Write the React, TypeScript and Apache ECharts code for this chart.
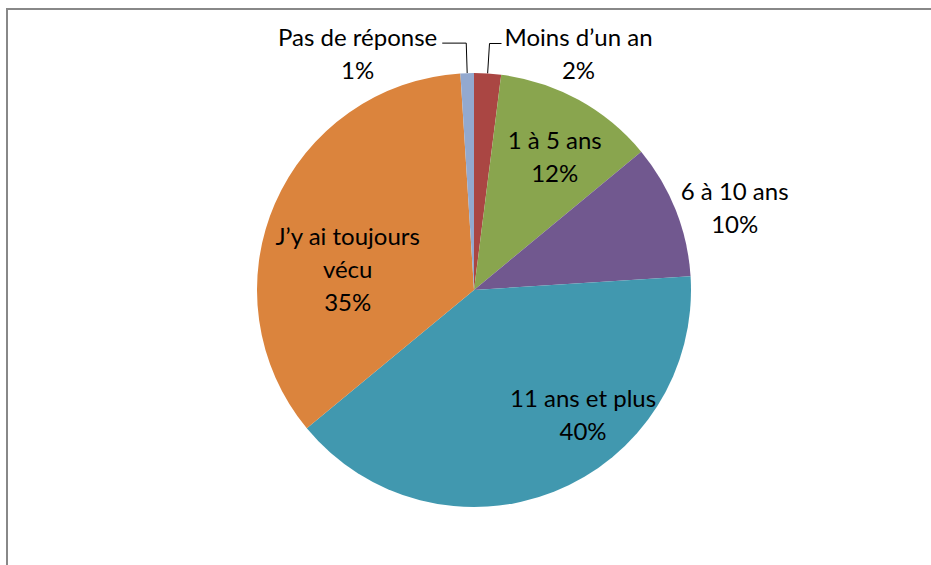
import React, { useEffect, useRef } from "react";
import * as echarts from "echarts";

const categories = ["Moins d\u2019un an", "1 à 5 ans", "6 à 10 ans", "11 ans et plus", "J\u2019y ai toujours\nvécu", "Pas de réponse"];
const values = [2, 12, 10, 40, 35, 1];
const colors = ["#AA4643", "#89A54E", "#71588F", "#4198AF", "#DB843D", "#93A9CF"];

// label placement tweaks (relative to the library's own inside position)
const insideShift: Record<number, [number, number]> = {
  1: [27, -36],
  2: [157, -42],
  3: [68, 20],
  4: [-24, 23],
};

export default function App() {
  const ref = useRef<HTMLDivElement>(null);
  useEffect(() => {
    document.body.style.margin = "0";
    const chart = echarts.init(ref.current!, undefined, { renderer: "svg" });
    const font = "Lato";
    const fs = 24;
    const data = categories.map((name, i) => {
      const item: any = { name, value: values[i], itemStyle: { color: colors[i] } };
      if (i === 0 || i === 5) {
        item.label = {
          position: "outside",
          formatter: "{c|{b}}\n{c|{c}%}",
          padding: [20, 0, 0, 0],
          distanceToLabelLine: i === 0 ? 3 : 5,
          rich: { c: { align: "center", fontSize: fs, lineHeight: 33, fontFamily: font, color: "#000" } },
        };
        item.labelLine = { show: true, length: 30, length2: i === 0 ? 12 : 24, lineStyle: { color: "#000", width: 1 } };
      } else {
        item.label = { position: "inside" };
        item.labelLine = { show: false };
      }
      return item;
    });
    chart.setOption({
      animation: false,
      backgroundColor: "#fff",
      graphic: [
        {
          type: "rect",
          shape: { x: 7, y: 9, width: 1000, height: 1000 },
          style: { fill: "none", stroke: "#888", lineWidth: 2 },
          silent: true,
        },
      ],
      series: [
        {
          type: "pie",
          center: [474, 290],
          radius: [0, 217],
          startAngle: 90,
          clockwise: true,
          avoidLabelOverlap: false,
          data,
          label: {
            show: true,
            formatter: "{b}\n{c}%",
            fontSize: fs,
            lineHeight: 33,
            fontFamily: font,
            color: "#000",
          },
          itemStyle: { borderWidth: 0 },
          labelLayout: (params: any) => {
            const s = insideShift[params.dataIndex];
            if (s) return { dx: s[0], dy: s[1] };
            return {};
          },
        },
      ],
    });
    return () => chart.dispose();
  }, []);
  return <div ref={ref} style={{ width: 931, height: 565 }} />;
}
